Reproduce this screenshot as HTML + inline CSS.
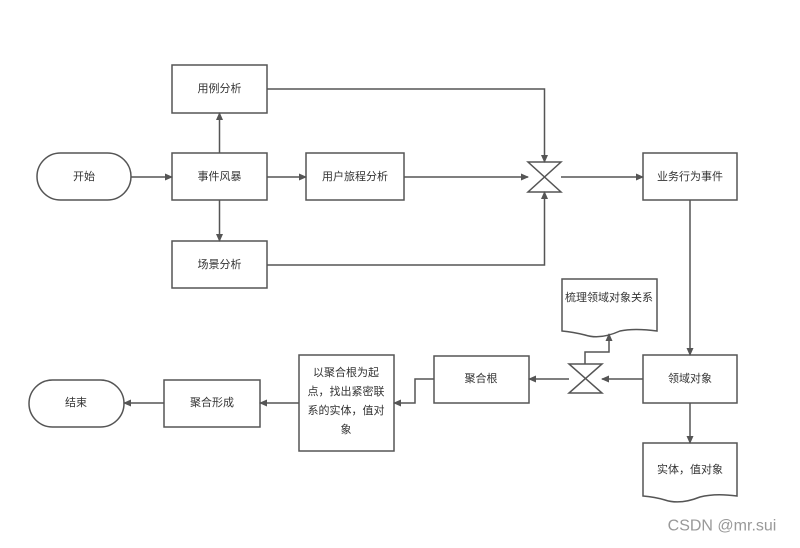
<!DOCTYPE html>
<html><head><meta charset="utf-8"><style>
body{margin:0;background:#fff}
svg text{font-family:"Liberation Sans","Noto Sans CJK SC",sans-serif;font-size:11px;fill:#333;text-anchor:middle;dominant-baseline:central}
</style></head><body>
<svg width="800" height="543" viewBox="0 0 800 543" xmlns="http://www.w3.org/2000/svg">
<defs><marker id="a" markerWidth="8" markerHeight="8" refX="7" refY="4" orient="auto" markerUnits="userSpaceOnUse"><path d="M0,0.5 L8,4 L0,7.5 Z" fill="#555"/></marker></defs>
<g fill="#fff" stroke="#555" stroke-width="1.5">
<rect x="37" y="153" width="94" height="47" rx="23.5"/>
<rect x="172" y="153" width="95" height="47"/>
<rect x="172" y="65" width="95" height="48"/>
<rect x="172" y="241" width="95" height="47"/>
<rect x="306" y="153" width="98" height="47"/>
<rect x="643" y="153" width="94" height="47"/>
<rect x="643" y="355" width="94" height="48"/>
<path d="M643,443 H737 V496 Q715,493 700,497 Q680,505 665,500 Q655,497 643,496 Z"/>
<path d="M562,279 H657 V331 Q635,328 620,331 Q600,340 585,335 Q573,332 562,331 Z"/>
<rect x="434" y="356" width="95" height="47"/>
<rect x="299" y="355" width="95" height="96"/>
<rect x="164" y="380" width="96" height="47"/>
<rect x="29" y="380" width="95" height="47" rx="23.5"/>
<path d="M528,162 H561 L528,192 H561 Z"/>
<path d="M569,364 H602 L569,393 H602 Z"/>
</g>
<g fill="none" stroke="#555" stroke-width="1.5" marker-end="url(#a)">
<path d="M131,177 H172"/>
<path d="M219.5,153 V113"/>
<path d="M219.5,200 V241"/>
<path d="M267,177 H306"/>
<path d="M404,177 H528"/>
<path d="M267,89 H544.5 V162"/>
<path d="M267,265 H544.5 V192"/>
<path d="M561,177 H643"/>
<path d="M690,200 V355"/>
<path d="M690,403 V443"/>
<path d="M643,379 H602"/>
<path d="M569,379 H529"/>
<path d="M585,364 V352 H609 V334"/>
<path d="M434,379 H415 V403 H394"/>
<path d="M299,403 H260"/>
<path d="M164,403 H124"/>
</g>
<text x="84" y="177">开始</text>
<text x="219.5" y="177">事件风暴</text>
<text x="219.5" y="89">用例分析</text>
<text x="219.5" y="265">场景分析</text>
<text x="355" y="177">用户旅程分析</text>
<text x="690" y="177">业务行为事件</text>
<text x="690" y="379">领域对象</text>
<text x="690" y="470">实体，值对象</text>
<text x="609" y="298">梳理领域对象关系</text>
<text x="481" y="379">聚合根</text>
<text x="346" y="373">以聚合根为起</text>
<text x="346" y="392">点，找出紧密联</text>
<text x="346" y="411">系的实体，值对</text>
<text x="346" y="430">象</text>
<text x="212" y="403">聚合形成</text>
<text x="76" y="403">结束</text>
<text x="722" y="526" style="font-size:16px;fill:#999">CSDN @mr.sui</text>
</svg>
</body></html>
